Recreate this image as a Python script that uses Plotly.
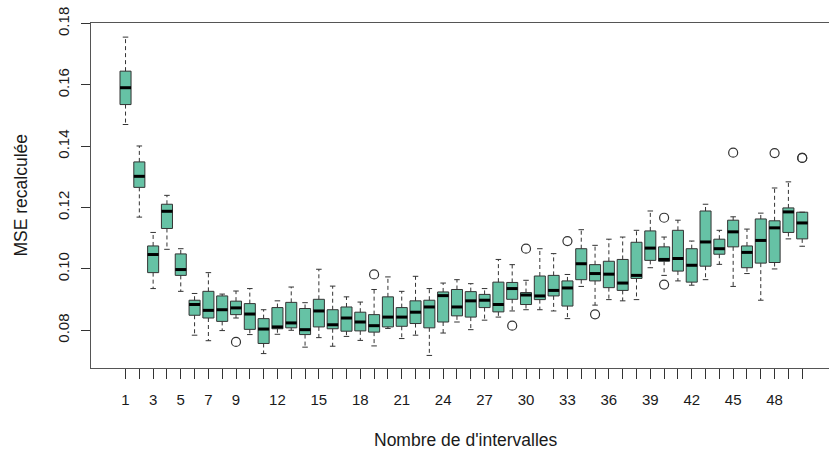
import plotly.graph_objects as go

# Box statistics per number of intervals (1..50)
n_intervals = list(range(1, 51))
lower = [0.1471, 0.1169, 0.0936, 0.1064, 0.0927, 0.0784, 0.0766, 0.0799, 0.0840, 0.0786,
         0.0724, 0.0787, 0.0800, 0.0745, 0.0776, 0.0748, 0.0780, 0.0767, 0.0749, 0.0806,
         0.0773, 0.0784, 0.0718, 0.0791, 0.0827, 0.0802, 0.0833, 0.0843, 0.0863, 0.0867,
         0.0867, 0.0863, 0.0838, 0.0943, 0.0882, 0.0900, 0.0896, 0.0900, 0.1004, 0.0979,
         0.0961, 0.0947, 0.0965, 0.1015, 0.0943, 0.0985, 0.0898, 0.1000, 0.1098, 0.1074]
q1 = [0.1536, 0.1266, 0.0988, 0.1132, 0.0979, 0.0849, 0.0840, 0.0829, 0.0851, 0.0803,
      0.0757, 0.0805, 0.0808, 0.0786, 0.0811, 0.0805, 0.0797, 0.0798, 0.0794, 0.0811,
      0.0813, 0.0822, 0.0808, 0.0827, 0.0847, 0.0843, 0.0874, 0.0860, 0.0901, 0.0884,
      0.0900, 0.0912, 0.0879, 0.0965, 0.0961, 0.0939, 0.0930, 0.0969, 0.1028, 0.1025,
      0.0993, 0.0957, 0.1009, 0.1048, 0.1072, 0.1004, 0.1019, 0.1021, 0.1119, 0.1098]
median = [0.1591, 0.1302, 0.1047, 0.1188, 0.0998, 0.0884, 0.0865, 0.0867, 0.0873, 0.0853,
          0.0804, 0.0811, 0.0824, 0.0802, 0.0863, 0.0818, 0.0840, 0.0827, 0.0815, 0.0843,
          0.0843, 0.0859, 0.0876, 0.0913, 0.0876, 0.0896, 0.0898, 0.0884, 0.0936, 0.0915,
          0.0912, 0.0930, 0.0938, 0.1017, 0.0985, 0.0983, 0.0954, 0.0979, 0.1068, 0.1031,
          0.1034, 0.1012, 0.1088, 0.1066, 0.1121, 0.1054, 0.1093, 0.1134, 0.1186, 0.1150]
q3 = [0.1645, 0.1349, 0.1075, 0.1211, 0.1049, 0.0898, 0.0927, 0.0912, 0.0895, 0.0887,
      0.0838, 0.0874, 0.0891, 0.0871, 0.0901, 0.0867, 0.0876, 0.0859, 0.0851, 0.0909,
      0.0874, 0.0896, 0.0898, 0.0925, 0.0933, 0.0926, 0.0917, 0.0957, 0.0956, 0.0923,
      0.0977, 0.0979, 0.0961, 0.1066, 0.1014, 0.1025, 0.1031, 0.1087, 0.1124, 0.1072,
      0.1126, 0.1066, 0.1189, 0.1097, 0.1159, 0.1075, 0.1163, 0.1157, 0.1199, 0.1185]
upper = [0.1756, 0.1401, 0.1119, 0.1240, 0.1066, 0.0920, 0.0988, 0.0918, 0.0928, 0.0936,
         0.0867, 0.0896, 0.0941, 0.0890, 0.0999, 0.0944, 0.0909, 0.0892, 0.0933, 0.0974,
         0.0927, 0.0976, 0.0936, 0.0954, 0.0965, 0.0952, 0.0936, 0.1031, 0.1014, 0.0963,
         0.1066, 0.1050, 0.0982, 0.1128, 0.1077, 0.1097, 0.1104, 0.1126, 0.1189, 0.1104,
         0.1159, 0.1091, 0.1211, 0.1126, 0.1170, 0.1130, 0.1182, 0.1264, 0.1284, 0.1185]
outlier_x = [9, 19, 29, 30, 33, 35, 40, 40, 45, 48, 50, 50]
outlier_y = [0.0762, 0.0982, 0.0815, 0.1066, 0.1091, 0.0852, 0.1167, 0.0949, 0.1379, 0.1378, 0.1362, 0.1362]

labelled_ticks = [1, 3, 5, 7, 9, 12, 15, 18, 21, 24, 27, 30, 33, 36, 39, 42, 45, 48]
y_ticks = [0.08, 0.10, 0.12, 0.14, 0.16, 0.18]

FILL = "#66C2A5"
EDGE = "#333333"
FONT = "Liberation Sans, Arial, sans-serif"
BOXW = 0.8
CAPW = 0.4

fig = go.Figure()

# whiskers (dashed)
wx, wy = [], []
for i, lo, a, b, hi in zip(n_intervals, lower, q1, q3, upper):
    wx += [i, i, None, i, i, None]
    wy += [b, hi, None, a, lo, None]
fig.add_trace(go.Scatter(x=wx, y=wy, mode="lines",
                         line=dict(color=EDGE, width=1, dash="4px,3px"),
                         hoverinfo="skip", showlegend=False))
# caps
cx, cy = [], []
for i, lo, hi in zip(n_intervals, lower, upper):
    cx += [i - CAPW / 2, i + CAPW / 2, None, i - CAPW / 2, i + CAPW / 2, None]
    cy += [hi, hi, None, lo, lo, None]
fig.add_trace(go.Scatter(x=cx, y=cy, mode="lines",
                         line=dict(color=EDGE, width=1),
                         hoverinfo="skip", showlegend=False))
# boxes
fig.add_trace(go.Bar(x=n_intervals, y=[b - a for a, b in zip(q1, q3)], base=q1,
                     width=BOXW, marker=dict(color=FILL, line=dict(color=EDGE, width=1)),
                     showlegend=False))
# medians
mx, my = [], []
for i, m in zip(n_intervals, median):
    mx += [i - BOXW / 2, i + BOXW / 2, None]
    my += [m, m, None]
fig.add_trace(go.Scatter(x=mx, y=my, mode="lines",
                         line=dict(color="black", width=3),
                         hoverinfo="skip", showlegend=False))
# outliers
fig.add_trace(go.Scatter(x=outlier_x, y=outlier_y, mode="markers",
                         marker=dict(symbol="circle-open", size=9, color=EDGE,
                                     line=dict(width=1.2, color=EDGE)),
                         showlegend=False))

fig.update_layout(
    width=829, height=452,
    margin=dict(l=91, r=0, t=23, b=84),
    plot_bgcolor="white", paper_bgcolor="white",
    font=dict(family=FONT, size=15, color="#1a1a1a"),
    xaxis=dict(range=[-1.5, 51.94], tickvals=n_intervals,
               ticktext=[str(v) if v in labelled_ticks else "" for v in n_intervals],
               ticks="outside", ticklen=10, tickcolor=EDGE, tickwidth=1,
               showline=True, mirror=True, linecolor="#555555", linewidth=1,
               showgrid=False, zeroline=False, ticklabelstandoff=8,
               tickfont=dict(size=15)),
    yaxis=dict(range=[0.0677, 0.1802], tickvals=y_ticks,
               ticktext=["%.2f" % v for v in y_ticks], tickangle=-90,
               ticks="outside", ticklen=9, tickcolor=EDGE, tickwidth=1,
               showline=True, mirror=False, linecolor="#555555", linewidth=1,
               showgrid=False, zeroline=False, ticklabelstandoff=6,
               tickfont=dict(size=15)),
    annotations=[
        dict(text="Nombre de d'intervalles", xref="paper", yref="paper",
             x=0.508, y=-0.209, xanchor="center", yanchor="middle",
             showarrow=False, font=dict(size=17.5)),
        dict(text="MSE recalculée", xref="paper", yref="paper",
             x=-0.0962, y=0.5, xanchor="center", yanchor="middle", textangle=-90,
             showarrow=False, font=dict(size=17.5)),
    ],
)

fig.write_html("out.html")
